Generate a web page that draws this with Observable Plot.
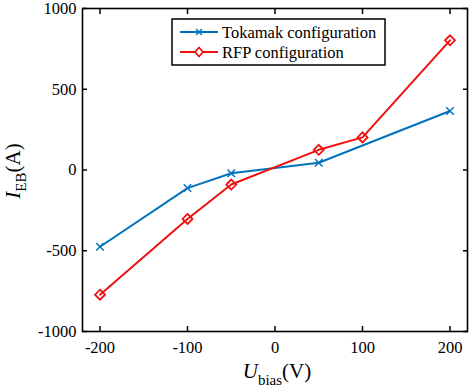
<!DOCTYPE html>
<html>
<head>
<meta charset="utf-8">
<script src="https://cdn.jsdelivr.net/npm/d3@7"></script>
<script src="https://cdn.jsdelivr.net/npm/@observablehq/plot@0.6"></script>
<style>
  body { margin: 0; background: white; }
  svg text { font-family: "Liberation Serif", "Times New Roman", serif; }
</style>
</head>
<body>
<div id="chart"></div>
<script>
const tokamakV = [-200, -100, -50, 50, 200];
const tokamakI = [-475, -112, -20, 45, 365];
const rfpV = [-200, -100, -50, 50, 100, 200];
const rfpI = [-772, -303, -90, 125, 202, 803];
const seriesNames = ["Tokamak configuration", "RFP configuration"];
const seriesColors = ["#0072BD", "#F01010"];
const xTicks = [-200, -100, 0, 100, 200];
const yTicks = [-1000, -500, 0, 500, 1000];

const tok = tokamakV.map((x, i) => ({x, y: tokamakI[i]}));
const rfp = rfpV.map((x, i) => ({x, y: rfpI[i]}));
const serif = "Liberation Serif";

const plot = Plot.plot({
  width: 472,
  height: 389,
  marginLeft: 82,
  marginRight: 5,
  marginTop: 8,
  marginBottom: 58,
  style: {fontFamily: serif, fontSize: "16px", color: "black", background: "white"},
  x: {domain: [-220, 220], label: null},
  y: {domain: [-1000, 1000], label: null},
  marks: [
    Plot.axisX({anchor: "bottom", ticks: xTicks, tickSize: -5, text: null, strokeWidth: 1.5}),
    Plot.axisX({anchor: "top", ticks: xTicks, tickSize: -5, text: null, strokeWidth: 1.5}),
    Plot.axisX({anchor: "bottom", ticks: xTicks, tickSize: 0, tickPadding: 10, fontSize: 16.5, fontFamily: serif, tickFormat: d => String(d)}),
    Plot.axisY({anchor: "left", ticks: yTicks, tickSize: -5, text: null, strokeWidth: 1.5}),
    Plot.axisY({anchor: "right", ticks: yTicks, tickSize: -5, text: null, strokeWidth: 1.5}),
    Plot.axisY({anchor: "left", ticks: yTicks, tickSize: 0, tickPadding: 6, fontSize: 16.5, fontFamily: serif, tickFormat: d => String(d)}),
    Plot.line(tok, {x: "x", y: "y", stroke: seriesColors[0], strokeWidth: 2}),
    Plot.line(rfp, {x: "x", y: "y", stroke: seriesColors[1], strokeWidth: 2}),
    Plot.dot(tok, {x: "x", y: "y", symbol: "times", r: 3.5, stroke: seriesColors[0], strokeWidth: 1.5}),
    Plot.dot(rfp, {x: "x", y: "y", symbol: "diamond2", r: 4.5, stroke: seriesColors[1], fill: "none", strokeWidth: 1.8}),
    Plot.frame({stroke: "black", strokeWidth: 1.6})
  ]
});

document.getElementById("chart").appendChild(plot);
const svg = d3.select(plot);

// Y axis label
const yl = svg.append("text")
  .attr("transform", "translate(20,171) rotate(-90)")
  .attr("text-anchor", "middle")
  .attr("font-family", serif)
  .attr("font-size", 21)
  .attr("fill", "black");
yl.append("tspan").attr("font-style", "italic").text("I");
yl.append("tspan").attr("font-size", 15).attr("dy", 6).text("EB");
yl.append("tspan").attr("dy", -6).text("(A)");

// X axis label
const xl = svg.append("text")
  .attr("x", 277).attr("y", 378)
  .attr("text-anchor", "middle")
  .attr("font-family", serif)
  .attr("font-size", 21)
  .attr("fill", "black");
xl.append("tspan").attr("font-style", "italic").text("U");
xl.append("tspan").attr("font-size", 15).attr("dy", 7).text("bias");
xl.append("tspan").attr("dy", -7).text("(V)");

// Legend
const lg = svg.append("g");
lg.append("rect").attr("x", 172).attr("y", 19).attr("width", 213).attr("height", 46)
  .attr("fill", "white").attr("stroke", "black").attr("stroke-width", 1.5);
const rowsY = [32, 52];
seriesNames.forEach((name, i) => {
  const y = rowsY[i];
  lg.append("line").attr("x1", 180).attr("x2", 218).attr("y1", y).attr("y2", y)
    .attr("stroke", seriesColors[i]).attr("stroke-width", 2);
  if (i === 0) {
    lg.append("path").attr("d", `M${199-3},${y-3}L${199+3},${y+3}M${199-3},${y+3}L${199+3},${y-3}`)
      .attr("stroke", seriesColors[i]).attr("stroke-width", 1.5);
  } else {
    lg.append("path").attr("d", `M199,${y-4.5}L${199+4},${y}L199,${y+4.5}L${199-4},${y}Z`)
      .attr("stroke", seriesColors[i]).attr("fill", "white").attr("stroke-width", 1.8);
  }
  lg.append("text").attr("x", 222).attr("y", y + 5.5)
    .attr("text-anchor", "start")
    .attr("font-family", serif).attr("font-size", 16.5).attr("fill", "black")
    .text(name);
});
</script>
</body>
</html>
